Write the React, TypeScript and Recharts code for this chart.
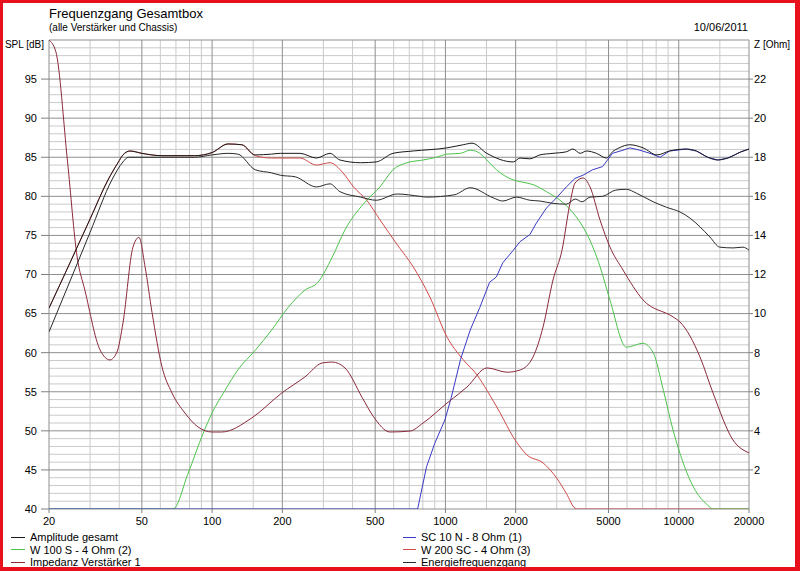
import React from 'react';
import { LineChart, Line, XAxis, YAxis, CartesianGrid, Legend } from 'recharts';

const FONT = '"Liberation Sans", Arial, sans-serif';

// axis ticks and grid values
const xTicks = [20, 50, 100, 200, 500, 1000, 2000, 5000, 10000, 20000];
const xMinorGrid = [30, 40, 60, 70, 80, 90, 150, 300, 400, 600, 700, 800, 900, 1500, 3000, 4000, 6000, 7000, 8000, 9000, 15000];
const splTicks = [40, 45, 50, 55, 60, 65, 70, 75, 80, 85, 90, 95];
const splMajorGrid = [40, 45, 50, 55, 60, 65, 70, 75, 80, 85, 90, 95, 100];
const splMinorGrid = [41, 42, 43, 44, 46, 47, 48, 49, 51, 52, 53, 54, 56, 57, 58, 59, 61, 62, 63, 64, 66, 67, 68, 69, 71, 72, 73, 74, 76, 77, 78, 79, 81, 82, 83, 84, 86, 87, 88, 89, 91, 92, 93, 94, 96, 97, 98, 99];
const zTicks = [2, 4, 6, 8, 10, 12, 14, 16, 18, 20, 22];

// Amplitude gesamt
const ampFreq = [20, 23, 26.6, 30, 35.8, 39.5, 41.5, 44.5, 50, 61, 84, 100, 117, 134, 153, 180, 196, 238, 280, 320, 353, 433, 505, 596, 727, 1015, 1192, 1300, 1505, 1953, 2088, 2300, 2540, 2891, 3297, 3522, 3780, 4020, 4437, 4900, 5200, 5550, 6170, 7029, 8070, 9130, 10770, 11900, 13300, 14700, 16230, 18500, 20000];
const ampDb = [65.7, 69.6, 73.7, 77.1, 82.1, 84.3, 85.3, 85.8, 85.5, 85.2, 85.2, 85.6, 86.7, 86.6, 85.3, 85.4, 85.5, 85.5, 84.9, 85.5, 84.65, 84.3, 84.4, 85.5, 85.8, 86.2, 86.6, 86.8, 85.5, 84.4, 84.9, 84.8, 85.3, 85.5, 85.7, 86.05, 85.5, 85.8, 85.5, 84.9, 85.7, 86.2, 86.6, 86.2, 85.3, 85.8, 86.05, 85.8, 85.0, 84.65, 84.9, 85.7, 86.05];

// Energiefrequenzgang
const eFreq = [20, 26.6, 30, 37.2, 41.5, 43.7, 60, 84, 100, 117, 129, 153, 180, 196, 227, 280, 320, 353, 433, 505, 622, 777, 830, 1093, 1277, 1604, 1761, 2017, 2300, 2540, 2891, 3300, 3600, 3850, 4166, 4712, 5370, 5963, 6590, 7772, 8860, 10125, 11190, 12331, 13590, 15000, 17081, 18840, 20000];
const eDb = [62.65, 71.6, 75.4, 82.1, 84.4, 85.0, 85.0, 85.0, 85.3, 85.5, 85.4, 83.4, 83.0, 82.7, 82.5, 81.2, 81.6, 80.6, 79.9, 79.5, 80.3, 80.0, 79.9, 80.2, 81.1, 79.8, 79.4, 79.9, 79.5, 79.4, 79.1, 79.0, 79.65, 79.3, 79.9, 80.0, 80.8, 80.9, 80.4, 79.3, 78.6, 78.0, 77.2, 76.1, 74.8, 73.5, 73.4, 73.5, 73.1];

// W 200 SC - 4 Ohm (3)
const wFreq = [20, 23, 26.6, 30, 35.8, 39.5, 41.5, 44.5, 50, 61, 84, 100, 117, 134, 153, 180, 238, 280, 320, 364, 404, 460, 524, 622, 727, 858, 1016, 1192, 1370, 1505, 1715, 1953, 2239, 2620, 2990, 3297, 3593, 3700, 20000];
const wDb = [65.7, 69.6, 73.7, 77.1, 82.1, 84.3, 85.3, 85.8, 85.5, 85.2, 85.2, 85.6, 86.7, 86.6, 85.2, 84.9, 84.9, 84.0, 84.3, 83.0, 81.2, 79.5, 77.0, 73.8, 71.0, 67.1, 62.0, 59.1, 57.1, 55.2, 52.3, 49.2, 46.9, 45.9, 44.0, 42.0, 40.1, 40, 40];

// W 100 S - 4 Ohm (2)
const gFreq = [20, 68, 79, 91.6, 100, 113.7, 129, 153, 180, 212, 250, 284, 327, 371, 460, 524, 596, 684, 802, 915, 1015, 1160, 1277, 1370, 1505, 1654, 1953, 2150, 2374, 2709, 3098, 3522, 4020, 4300, 4600, 5075, 5963, 7029, 7772, 8590, 9450, 10446, 11560, 13300, 14020, 20000];
const gDb = [40, 40, 44.6, 49.7, 52.3, 55.2, 57.8, 60.3, 62.9, 65.8, 68.0, 69.0, 72.2, 75.7, 79.5, 81.2, 83.4, 84.3, 84.65, 85.0, 85.4, 85.5, 85.9, 85.7, 84.65, 83.4, 82.1, 81.8, 81.5, 80.6, 79.5, 77.9, 75.3, 73.4, 71.0, 66.7, 60.7, 61.2, 60.0, 55.2, 50.1, 45.9, 42.8, 40.5, 40, 40];

// SC 10 N - 8 Ohm (1)
const bFreq = [20, 760, 830, 900, 995, 1060, 1160, 1277, 1405, 1546, 1654, 1761, 1953, 2088, 2300, 2456, 2709, 2990, 3297, 3593, 3888, 4272, 4712, 5200, 5768, 6170, 6810, 7530, 8320, 9130, 10770, 11900, 13300, 14700, 16230, 18500, 20000];
const bDb = [40, 40, 45.4, 48.4, 51.4, 54.3, 59.1, 62.9, 65.8, 69.0, 69.7, 71.5, 73.1, 74.2, 75.1, 76.6, 78.5, 79.8, 81.2, 82.3, 82.7, 83.4, 83.8, 85.5, 85.9, 86.2, 85.9, 85.5, 85.0, 85.8, 86.05, 85.8, 85.0, 84.65, 84.9, 85.7, 86.05];

// Impedanz Verstärker 1 (Ohm, right axis)
const zFreq = [20, 21.4, 24, 26.4, 28.5, 33.1, 36.5, 39.1, 41.5, 45.8, 48.6, 51.6, 55.3, 61, 67.3, 76.5, 87, 100, 110, 148, 199, 250, 296, 327, 371, 440, 490, 579, 705, 802, 1016, 1237, 1508, 1836, 2088, 2374, 2620, 2891, 3160, 3420, 3593, 3888, 4166, 4597, 5075, 5768, 7029, 9450, 10125, 12331, 14020, 17081, 20000];
const zOhm = [24.0, 23.4, 17.8, 12.9, 11.2, 8.14, 7.63, 8.03, 9.52, 13.4, 13.9, 12.4, 10.05, 7.27, 5.94, 4.91, 4.2, 3.94, 3.94, 4.66, 5.94, 6.76, 7.47, 7.52, 7.22, 5.7, 4.75, 3.94, 3.99, 4.4, 5.42, 6.24, 7.22, 7.0, 7.11, 7.78, 9.31, 11.72, 13.25, 15.66, 16.68, 16.94, 16.48, 14.79, 13.4, 12.23, 10.7, 9.83, 9.57, 7.78, 5.94, 3.53, 2.87];

const zip = (fs: number[], vs: number[]) => fs.map((f, i) => ({ f, v: vs[i] }));

const ampData = zip(ampFreq, ampDb);
const eData = zip(eFreq, eDb);
const wData = zip(wFreq, wDb);
const gData = zip(gFreq, gDb);
const bData = zip(bFreq, bDb);
const zData = zip(zFreq, zOhm);

const legendOrder = [
  'Amplitude gesamt',
  'SC 10 N - 8 Ohm (1)',
  'W 100 S - 4 Ohm (2)',
  'W 200 SC - 4 Ohm (3)',
  'Impedanz Verstärker 1',
  'Energiefrequenzgang',
];

const renderLegend = (props: any) => {
  const payload = props.payload || [];
  const byName: Record<string, any> = {};
  payload.forEach((p: any) => { byName[p.value] = p; });
  return (
    <div style={{ position: 'relative', width: 800, height: 38, fontFamily: FONT, fontSize: 11, color: '#000' }}>
      {legendOrder.map((name, i) => {
        const col = i % 2;
        const row = Math.floor(i / 2);
        const p = byName[name];
        return (
          <div key={name} style={{ position: 'absolute', left: col ? 403 : 11, top: row * 12.5, height: 12.5, display: 'flex', alignItems: 'center', whiteSpace: 'nowrap' }}>
            <span style={{ display: 'inline-block', width: col ? 13 : 14, height: 1, background: p ? p.color : '#000' }} />
            <span style={{ marginLeft: 5, lineHeight: '12px' }}>{name}</span>
          </div>
        );
      })}
    </div>
  );
};

const tickStyle = { fontSize: 11, fill: '#000', fontFamily: FONT };

export default function App() {
  return (
    <div style={{ position: 'fixed', left: 0, top: 0, width: 800, height: 571, background: '#fff', fontFamily: FONT, overflow: 'hidden' }}>
      <div style={{ position: 'absolute', left: 49, top: 6.5, fontSize: 13, lineHeight: '13px', color: '#000', whiteSpace: 'nowrap', zIndex: 2 }}>Frequenzgang Gesamtbox</div>
      <div style={{ position: 'absolute', left: 49, top: 22.5, fontSize: 10, lineHeight: '10px', color: '#000', whiteSpace: 'nowrap', zIndex: 2 }}>(alle Verstärker und Chassis)</div>
      <div style={{ position: 'absolute', left: 648, width: 100, top: 22, fontSize: 11, lineHeight: '11px', color: '#000', textAlign: 'right', zIndex: 2 }}>10/06/2011</div>
      <div style={{ position: 'absolute', left: 0, width: 49, top: 40, fontSize: 10, lineHeight: '10px', color: '#000', textAlign: 'center', whiteSpace: 'nowrap', zIndex: 2 }}>SPL [dB]</div>
      <div style={{ position: 'absolute', left: 754, top: 40, fontSize: 10, lineHeight: '10px', color: '#000', whiteSpace: 'nowrap', zIndex: 2 }}>Z [Ohm]</div>

      <LineChart width={800} height={571} margin={{ top: 40, right: 0, bottom: 0, left: 0 }}>
        <CartesianGrid yAxisId="spl" stroke="#cacaca" horizontalValues={splMinorGrid} verticalValues={xMinorGrid} />
        <CartesianGrid yAxisId="spl" stroke="#8f8f8f" horizontalValues={splMajorGrid} verticalValues={xTicks} />
        <XAxis
          type="number"
          dataKey="f"
          scale="log"
          domain={[20, 20000]}
          ticks={xTicks}
          allowDataOverflow
          height={62}
          tick={tickStyle}
          tickSize={4}
          tickMargin={4}
          axisLine={false}
          tickLine={{ stroke: '#808080' }}
          interval={0}
        />
        <YAxis
          yAxisId="spl"
          orientation="left"
          type="number"
          domain={[40, 100]}
          ticks={splTicks}
          allowDataOverflow
          width={49}
          tick={tickStyle}
          tickSize={8}
          tickMargin={4}
          axisLine={false}
          tickLine={{ stroke: '#808080' }}
          interval={0}
        />
        <YAxis
          yAxisId="z"
          orientation="right"
          type="number"
          domain={[0, 24]}
          ticks={zTicks}
          allowDataOverflow
          width={51}
          tick={tickStyle}
          tickSize={4}
          tickMargin={1}
          axisLine={false}
          tickLine={{ stroke: '#808080' }}
          interval={0}
        />
        <Legend
          layout="vertical"
          align="center"
          verticalAlign="middle"
          content={renderLegend}
          wrapperStyle={{ left: 0, top: 531, width: 800, height: 38 }}
        />
        <Line yAxisId="spl" data={wData} dataKey="v" name="W 200 SC - 4 Ohm (3)" type="monotone" stroke="#d24a4a" strokeWidth={1} dot={false} activeDot={false} isAnimationActive={false} />
        <Line yAxisId="spl" data={gData} dataKey="v" name="W 100 S - 4 Ohm (2)" type="monotone" stroke="#4cc44c" strokeWidth={1} dot={false} activeDot={false} isAnimationActive={false} />
        <Line yAxisId="spl" data={bData} dataKey="v" name="SC 10 N - 8 Ohm (1)" type="linear" stroke="#3a3ac4" strokeWidth={1} dot={false} activeDot={false} isAnimationActive={false} />
        <Line yAxisId="z" data={zData} dataKey="v" name="Impedanz Verstärker 1" type="monotone" stroke="#8a2a3a" strokeWidth={1} dot={false} activeDot={false} isAnimationActive={false} />
        <Line yAxisId="spl" data={eData} dataKey="v" name="Energiefrequenzgang" type="monotone" stroke="#2a2a2a" strokeWidth={1} dot={false} activeDot={false} isAnimationActive={false} />
        <Line yAxisId="spl" data={ampData} dataKey="v" name="Amplitude gesamt" type="monotone" stroke="#1a1a1a" strokeWidth={1} dot={false} activeDot={false} isAnimationActive={false} />
      </LineChart>

      <div style={{ position: 'absolute', left: 0, top: 0, width: 800, height: 571, boxSizing: 'border-box', borderTop: '3px solid #e8101c', borderLeft: '3px solid #e8101c', borderRight: '5px solid #e8101c', borderBottom: '4px solid #e8101c', pointerEvents: 'none', zIndex: 3 }} />
    </div>
  );
}
